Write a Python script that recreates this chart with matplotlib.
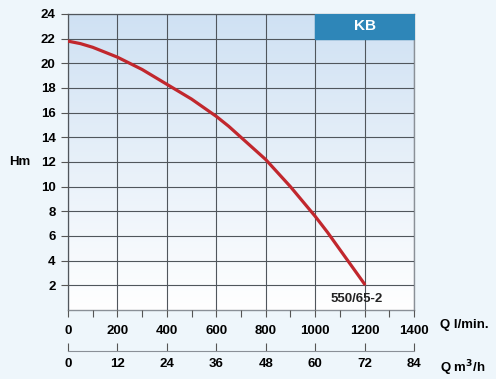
import numpy as np
import matplotlib.pyplot as plt
from matplotlib.colors import LinearSegmentedColormap

plt.rcParams['font.family'] = ['Liberation Sans', 'DejaVu Sans']
plt.rcParams['font.weight'] = 'bold'

# pump curve 550/65-2
flow_lmin = [0, 50, 100, 150, 200, 250, 300, 350, 400, 450, 500, 550, 600,
             650, 700, 750, 800, 850, 900, 950, 1000, 1050, 1100, 1150, 1200]
head_m = [21.8, 21.6, 21.3, 20.9, 20.5, 20.0, 19.5, 18.9, 18.3, 17.7, 17.1,
          16.4, 15.7, 14.9, 14.0, 13.1, 12.2, 11.1, 10.0, 8.8, 7.6, 6.3,
          4.9, 3.5, 2.1]
curve_name = "550/65-2"
series_tag = "KB"

x_ticks = [0, 200, 400, 600, 800, 1000, 1200, 1400]
y_ticks = [2, 4, 6, 8, 10, 12, 14, 16, 18, 20, 22, 24]
m3h_ticks = [0, 12, 24, 36, 48, 60, 72, 84]

bg = '#eef6fb'
fig = plt.figure(figsize=(4.96, 3.79), dpi=100, facecolor=bg)
ax = fig.add_axes([68/496, 69/379, 346/496, 296/379])

# gradient fill of the plot area, blue at top fading to white
grad = np.linspace(1, 0, 256).reshape(-1, 1)
cmap = LinearSegmentedColormap.from_list('bg', ['#ffffff', '#cfe1f3'])
ax.imshow(grad, aspect='auto', cmap=cmap, extent=[0, 1400, 0, 24], zorder=0,
          origin='upper')

ax.set_xlim(0, 1400)
ax.set_ylim(0, 24)
ax.set_xticks(x_ticks)
ax.set_xticks(range(100, 1400, 200), minor=True)
ax.set_yticks(y_ticks)
ax.grid(True, color='#50565c', linewidth=0.8, zorder=1)
ax.set_axisbelow(False)
for s in ax.spines.values():
    s.set_color('#8a9097')
    s.set_linewidth(1)
ax.tick_params(axis='both', which='both', length=5, color='#555', width=0.8,
               labelsize=9.5, pad=4)
ax.tick_params(axis='x', pad=6)
ax.tick_params(axis='x', which='minor', length=5)

# KB box
ax.fill_between([1000, 1400], 22, 24, color='#2e86b8', zorder=3)
ax.text(1200, 23, series_tag, color='white', ha='center', va='center',
        fontsize=11, fontweight='bold', zorder=4)

ax.plot(flow_lmin, head_m, color='#c1272d', linewidth=2.3, zorder=5,
        solid_capstyle='round')
ax.text(1170, 0.9, curve_name, ha='center', va='center', fontsize=9.5,
        color='#222', zorder=5)

ax.text(-0.14, 0.5, 'Hm', transform=ax.transAxes, ha='center', va='center',
        fontsize=9.5)
ax.text(1.075, -0.05, 'Q l/min.', transform=ax.transAxes, ha='left',
        va='center', fontsize=9.5)

# second flow scale in m3/h
ax2 = fig.add_axes([68/496, 28/379, 346/496, 0.0001])
ax2.set_facecolor('none')
ax2.set_xlim(0, 84)
ax2.set_xticks(m3h_ticks)
ax2.set_yticks([])
for k in ['left', 'right', 'top']:
    ax2.spines[k].set_visible(False)
ax2.spines['bottom'].set_color('#8a9097')
ax2.tick_params(axis='x', direction='in', length=6, color='#555',
                labelsize=9.5, pad=5)
ax2.text(1.075, -17/0.0001/379, r'Q m$^3$/h', transform=ax2.transAxes,
         ha='left', va='center', fontsize=9.5)

fig.savefig('out.png', dpi=100, facecolor=bg)
